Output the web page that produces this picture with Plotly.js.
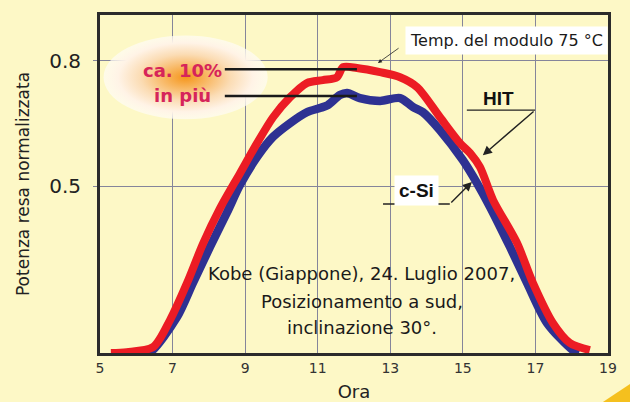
<!DOCTYPE html>
<html>
<head>
<meta charset="utf-8">
<script src="https://cdn.plot.ly/plotly-3.0.1.min.js"></script>
<style>html,body{margin:0;padding:0;background:#fdf8c6;}#chart{width:630px;height:402px;}</style>
</head>
<body>
<div id="chart"></div>
<script>
// HIT (red) curve: hour of day, normalized power
const hitHours = [5.3, 5.74, 6.46, 6.93, 7.40, 7.84, 8.31, 8.86, 9.33, 9.77, 10.24, 10.70, 11.14, 11.53, 11.70, 12.08, 12.72, 13.27, 13.74, 14.37, 14.92, 15.20, 15.47, 15.83, 16.49, 16.93, 17.48, 17.95, 18.50];
const hitPower = [0.100, 0.102, 0.114, 0.179, 0.268, 0.362, 0.447, 0.531, 0.603, 0.665, 0.713, 0.747, 0.754, 0.761, 0.785, 0.783, 0.773, 0.761, 0.737, 0.665, 0.603, 0.579, 0.546, 0.467, 0.364, 0.268, 0.172, 0.124, 0.107];
// c-Si (blue) curve
const csiHours = [6.1, 6.38, 7.12, 7.56, 8.03, 8.50, 8.86, 9.33, 9.77, 10.24, 10.70, 11.06, 11.28, 11.61, 11.81, 12.16, 12.72, 13.27, 13.63, 13.90, 14.37, 15.00, 15.39, 15.75, 16.30, 16.77, 17.32, 18.03, 18.2];
const csiPower = [0.100, 0.102, 0.186, 0.268, 0.354, 0.437, 0.503, 0.570, 0.618, 0.651, 0.677, 0.687, 0.694, 0.718, 0.723, 0.711, 0.704, 0.711, 0.689, 0.677, 0.634, 0.562, 0.507, 0.450, 0.354, 0.268, 0.172, 0.107, 0.100];
const xTicks = [5, 7, 9, 11, 13, 15, 17, 19];
const yTicks = [0.5, 0.8];
const yTickText = ['0.5', '0.8'];
const noteLines = ['Kobe (Giappone), 24. Luglio 2007,', 'Posizionamento a sud,', 'inclinazione 30°.'];

const BG = '#fdf8c6';
const FONT = 'DejaVu Sans, sans-serif';
const BOLD = 'Liberation Sans, Arial, sans-serif';

const traces = [
  {x: csiHours, y: csiPower, mode: 'lines', line: {color: '#2e3192', width: 8.5, shape: 'spline', smoothing: 0.8}, hoverinfo: 'skip'},
  {x: hitHours, y: hitPower, mode: 'lines', line: {color: '#ec1c24', width: 8, shape: 'spline', smoothing: 0.8}, hoverinfo: 'skip'}
];

const svg = '<svg xmlns="http://www.w3.org/2000/svg" width="165" height="85" viewBox="0 0 165 85">' +
  '<defs><radialGradient id="g" cx="50%" cy="50%" r="50%">' +
  '<stop offset="0%" stop-color="#f5961c"/>' +
  '<stop offset="25%" stop-color="#f8b660"/>' +
  '<stop offset="55%" stop-color="#fbdcb4"/>' +
  '<stop offset="82%" stop-color="#fff3e6"/>' +
  '<stop offset="100%" stop-color="#fffcf6" stop-opacity="0.7"/>' +
  '</radialGradient></defs>' +
  '<ellipse cx="82.5" cy="42.5" rx="82" ry="42" fill="url(#g)"/></svg>';

const annotations = [
  {x: 7.26, y: 0.778, xref: 'x', yref: 'y', text: '<b>ca. 10%</b>', showarrow: false, font: {family: FONT, size: 18, color: '#d6245a'}},
  {x: 7.26, y: 0.718, xref: 'x', yref: 'y', text: '<b>in più</b>', showarrow: false, font: {family: FONT, size: 18, color: '#d6245a'}},
  {x: 16.19, y: 0.85, xref: 'x', yref: 'y', text: 'Temp. del modulo 75 °C', showarrow: false, bgcolor: '#ffffff', borderpad: 4, font: {family: FONT, size: 16, color: '#1a1a1a'}},
  {x: 12.66, y: 0.795, ax: 13.27, ay: 0.833, xref: 'x', yref: 'y', axref: 'x', ayref: 'y', text: '', showarrow: true, arrowhead: 2, arrowsize: 1, arrowwidth: 0.8, arrowcolor: '#222'},
  {x: 15.97, y: 0.709, xref: 'x', yref: 'y', text: '<b>HIT</b>', showarrow: false, font: {family: BOLD, size: 19, color: '#111'}},
  {x: 15.55, y: 0.574, ax: 16.99, ay: 0.682, xref: 'x', yref: 'y', axref: 'x', ayref: 'y', text: '', showarrow: true, arrowhead: 2, arrowsize: 1.3, arrowwidth: 1.4, arrowcolor: '#222'},
  {x: 13.71, y: 0.49, xref: 'x', yref: 'y', text: '<b>c-Si</b>', showarrow: false, bgcolor: '#ffffff', borderpad: 4, font: {family: BOLD, size: 19, color: '#111'}},
  {x: 15.25, y: 0.51, ax: 14.64, ay: 0.457, xref: 'x', yref: 'y', axref: 'x', ayref: 'y', text: '', showarrow: true, arrowhead: 2, arrowsize: 1.3, arrowwidth: 1.4, arrowcolor: '#222'}
];
const noteY = [0.290, 0.223, 0.161];
noteLines.forEach((t, i) => annotations.push({x: 12.22, y: noteY[i], xref: 'x', yref: 'y', text: t, showarrow: false, font: {family: FONT, size: 18, color: '#1a1a1a'}}));

const shapes = [
  {type: 'line', xref: 'x', yref: 'y', x0: 8.44, x1: 12.08, y0: 0.780, y1: 0.780, line: {color: '#1a1a1a', width: 2.5}},
  {type: 'line', xref: 'x', yref: 'y', x0: 8.44, x1: 12.08, y0: 0.716, y1: 0.716, line: {color: '#1a1a1a', width: 2.5}},
  {type: 'line', xref: 'x', yref: 'y', x0: 15.11, x1: 16.99, y0: 0.682, y1: 0.682, line: {color: '#222', width: 1.4}},
  {type: 'line', xref: 'x', yref: 'y', x0: 12.80, x1: 14.64, y0: 0.457, y1: 0.457, line: {color: '#222', width: 1.4}},
  {type: 'path', xref: 'paper', yref: 'paper', path: 'M 0.99 -0.145 L 1.05 -0.145 L 1.05 -0.085 Z', fillcolor: '#f5c01e', line: {width: 0}}
];

const layout = {
  width: 630, height: 402,
  margin: {l: 100, r: 22, t: 15, b: 49},
  paper_bgcolor: BG, plot_bgcolor: BG,
  showlegend: false,
  font: {family: FONT, color: '#222'},
  xaxis: {
    range: [5, 19], tickvals: xTicks, ticks: '', showgrid: true, gridcolor: '#85859a', gridwidth: 1,
    showline: true, mirror: true, linecolor: '#2b2b2b', linewidth: 3, zeroline: false,
    tickfont: {family: FONT, size: 14, color: '#333'},
    title: {text: 'Ora', font: {family: FONT, size: 18, color: '#222'}, standoff: 12}
  },
  yaxis: {
    range: [0.1, 0.91], tickvals: yTicks, ticktext: yTickText, ticks: 'outside', ticklen: 4, tickcolor: '#85859a',
    ticklabelstandoff: 8, showgrid: true, gridcolor: '#85859a', gridwidth: 1,
    showline: true, mirror: true, linecolor: '#2b2b2b', linewidth: 3, zeroline: false,
    tickfont: {family: FONT, size: 20, color: '#222'},
    title: {text: 'Potenza resa normalizzata', font: {family: FONT, size: 17, color: '#222'}, standoff: 16}
  },
  images: [{source: 'data:image/svg+xml;charset=utf-8,' + encodeURIComponent(svg), xref: 'paper', yref: 'paper', x: 0.006, y: 0.941, sizex: 0.325, sizey: 0.251, sizing: 'stretch', xanchor: 'left', yanchor: 'top', layer: 'above'}],
  annotations: annotations,
  shapes: shapes
};

Plotly.newPlot('chart', traces, layout, {displayModeBar: false, staticPlot: true});
</script>
</body>
</html>
